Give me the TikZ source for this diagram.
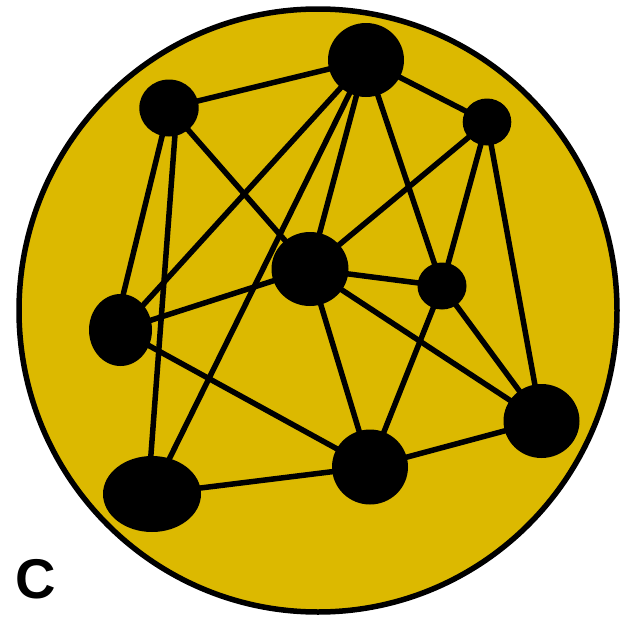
\documentclass[tikz,border=0pt]{standalone}
\usepackage{fontspec}
\setmainfont{Liberation Sans}
\usetikzlibrary{shapes.geometric}
\definecolor{gold}{RGB}{220,185,0}
\tikzset{
  vert/.style={ellipse, fill=black, draw=none, inner sep=0pt},
  link/.style={line width=5.5pt, black},
}
\begin{document}
\begin{tikzpicture}[x=1pt,y=-1pt]
\useasboundingbox (0,0) rectangle (635,621);
\draw[fill=gold, line width=5.5pt] (318,310.5) ellipse [x radius=299, y radius=301.5];
\node[vert, minimum width=59.4pt, minimum height=57pt] (n1) at (169,108) {};
\node[vert, minimum width=76pt, minimum height=74pt] (n2) at (366,60) {};
\node[vert, minimum width=48.6pt, minimum height=47pt] (n3) at (487,122) {};
\node[vert, minimum width=77pt, minimum height=74pt] (n4) at (310,269) {};
\node[vert, minimum width=49pt, minimum height=47pt] (n5) at (442,286) {};
\node[vert, minimum width=63pt, minimum height=72pt] (n6) at (120.5,330) {};
\node[vert, minimum width=76pt, minimum height=74pt] (n7) at (541.5,421) {};
\node[vert, minimum width=76pt, minimum height=75pt] (n8) at (370,467) {};
\node[vert, minimum width=98pt, minimum height=76pt] (n9) at (152,494) {};
\foreach \a/\b in {n1/n2, n2/n3, n1/n4, n2/n6, n2/n9, n2/n4, n2/n5,
  n3/n4, n3/n5, n3/n7, n4/n5, n4/n6, n4/n8, n4/n7, n5/n8, n5/n7, n6/n8, n9/n8, n8/n7}
  \draw[link] (\a.center) -- (\b.center);
\draw[link] (n1.center) -- ([xshift=-6pt]n6.center);
\draw[link] ([xshift=8pt]n1.center) -- ([xshift=-4pt]n9.center);
\node[font=\fontsize{56}{60}\selectfont\bfseries, inner sep=0pt] (lab) at (36,579) {C};
\end{tikzpicture}
\end{document}
